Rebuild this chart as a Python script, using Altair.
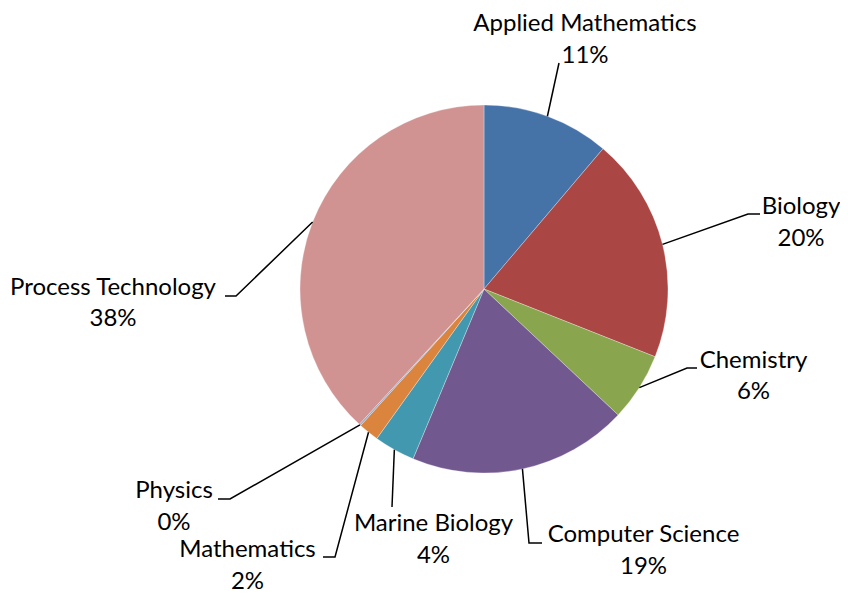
import math
import altair as alt
import pandas as pd

# ---- data ----
categories = ["Applied Mathematics", "Biology", "Chemistry", "Computer Science",
              "Marine Biology", "Mathematics", "Physics", "Process Technology"]
values = [11.2, 19.8, 6.0, 19.3, 3.6, 1.8, 0.15, 38.15]

# ---- styles ----
colors = ["#4572A7", "#AA4643", "#89A54E", "#71588F",
          "#4198AF", "#DB843D", "#93A9CF", "#D19392"]

# ---- layout (page coordinates; page margin is 8px) ----
M = 8
CX, CY, R = 484 - M, 289 - M, 184
# label: centre x, centre y of first line
label_x = [585, 801, 753.5, 643.5, 433.5, 247.5, 174, 113]
label_y = [24, 207, 360.5, 535, 524, 550, 491, 287.5]
# leader elbow / end points (None = straight line)
leader_elbow = [None, (748, 214), (687, 368), (529, 543), None, (335, 557), (230, 499), (236, 296)]
leader_end = [(559, 63), (760, 214), (697, 368), (542, 543), (392, 507), (323, 557), (218, 499), (225, 296)]

total = sum(values)
pie_df = pd.DataFrame({"category": categories, "value": values, "idx": range(len(values))})

# labels
lab_rows = []
for i, (c, v) in enumerate(zip(categories, values)):
    pct = round(v / total * 100)
    lab_rows.append({"category": c, "label": f"{c}\n{pct}%", "x": label_x[i] - M, "y": label_y[i] - M})
lab_df = pd.DataFrame(lab_rows)

# leaders: start at slice mid-angle on pie edge
line_rows = []
cum = 0.0
for i, (c, v) in enumerate(zip(categories, values)):
    mid = (cum + v / 2) / total * 2 * math.pi
    cum += v
    sx = CX + R * math.sin(mid)
    sy = CY - R * math.cos(mid)
    pts = [(sx, sy)]
    if leader_elbow[i] is not None:
        pts.append((leader_elbow[i][0] - M, leader_elbow[i][1] - M))
    pts.append((leader_end[i][0] - M, leader_end[i][1] - M))
    for k, (px, py) in enumerate(pts):
        line_rows.append({"category": c, "seq": k, "x": px, "y": py})
line_df = pd.DataFrame(line_rows)

pie = alt.Chart(pie_df).mark_arc(outerRadius=R, stroke="white", strokeWidth=0.5, strokeOpacity=0.6).encode(
    theta=alt.Theta("value:Q", stack=True),
    order=alt.Order("idx:Q"),
    color=alt.Color("category:N", scale=alt.Scale(domain=categories, range=colors), legend=None),
    x=alt.value(CX),
    y=alt.value(CY),
)

leaders = alt.Chart(line_df).mark_line(color="black", strokeWidth=1.5).encode(
    x=alt.X("x:Q", scale=None, axis=None),
    y=alt.Y("y:Q", scale=None, axis=None),
    detail="category:N",
    order="seq:Q",
)

labels = alt.Chart(lab_df).mark_text(
    font="Lato", fontSize=24, color="black", align="center", baseline="middle",
    lineBreak="\n", lineHeight=31.5,
).encode(
    x=alt.X("x:Q", scale=None, axis=None),
    y=alt.Y("y:Q", scale=None, axis=None),
    text="label:N",
)

chart = alt.layer(pie, leaders, labels).properties(
    width=832, height=584, padding=0, autosize="none"
).configure_view(stroke=None)

chart.save("out.html", embed_options={"renderer": "svg", "actions": False})
